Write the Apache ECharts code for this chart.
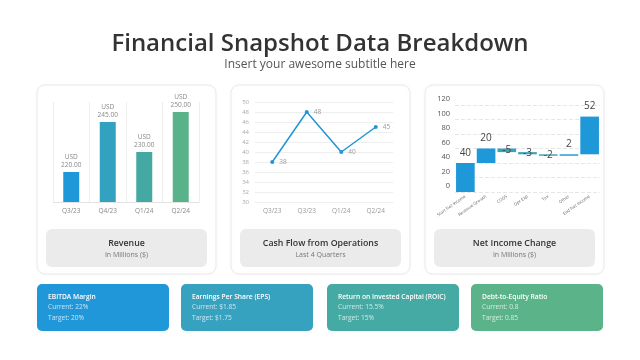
<!DOCTYPE html>
<html>
<head>
<meta charset="utf-8">
<script src="https://cdn.jsdelivr.net/npm/echarts@6/dist/echarts.min.js"></script>
<style>
  html, body { margin: 0; padding: 0; background: #fff; }
  #main { width: 640px; height: 360px; }
</style>
</head>
<body>
<div id="main"></div>
<script>
// revenue (bar)
var revCats = ["Q3/23", "Q4/23", "Q1/24", "Q2/24"];
var revValues = [220, 245, 230, 250];
var revColors = ["#1E98D8", "#33A1C0", "#44A9A2", "#5AB28A"];

// cash flow (line)
var cfCats = ["Q3/23", "Q3/23", "Q1/24", "Q2/24"];
var cfValues = [38, 48, 40, 45];

// net income waterfall
var niCats = ["Start Net Income", "Revenue Growth", "COGS", "Opr Exp", "Tax", "Other", "End Net Income"];
var niChanges = [40, 20, -5, -3, -2, 2, 52];
var niBase = [0, 40, 55, 52, 50, 50, 52];

// kpi boxes
var kpiTitles = ["EBITDA Margin", "Earnings Per Share (EPS)", "Return on Invested Capital (ROIC)", "Debt-to-Equity Ratio"];
var kpiCurrent = ["22%", "$1.85", "15.5%", "0.8"];
var kpiTarget = ["20%", "$1.75", "15%", "0.85"];
var kpiColors = ["#2097D8", "#37A2BF", "#45AAA3", "#5BB38A"];

var FONT = "Open Sans";
var chart = echarts.init(document.getElementById("main"));

var cards = [
  { x: 37, title: "Revenue", sub: "In Millions ($)" },
  { x: 231, title: "Cash Flow from Operations", sub: "Last 4 Quarters" },
  { x: 425, title: "Net Income Change", sub: "In Millions ($)" }
];

var graphics = [];
cards.forEach(function (c) {
  graphics.push({
    type: "rect", z: -10,
    shape: { x: c.x, y: 85, width: 179, height: 189, r: 8 },
    style: { fill: "#fff", stroke: "#e9e9e9", lineWidth: 1, shadowBlur: 4, shadowColor: "rgba(0,0,0,0.04)" }
  });
  graphics.push({
    type: "rect", z: -9,
    shape: { x: c.x + 9, y: 229, width: 161, height: 38, r: 6 },
    style: { fill: "#ebebeb" }
  });
  graphics.push({
    type: "text", z: 5,
    x: c.x + 89.5, y: 243,
    style: { text: c.title, fill: "#333", font: "600 8.8px '" + FONT + "'", align: "center", verticalAlign: "middle" }
  });
  graphics.push({
    type: "text", z: 5,
    x: c.x + 89.5, y: 255,
    style: { text: c.sub, fill: "#777", font: "7px '" + FONT + "'", align: "center", verticalAlign: "middle" }
  });
});

var kpiX = [37, 181, 327, 471];
kpiTitles.forEach(function (t, i) {
  graphics.push({
    type: "rect", z: -10,
    shape: { x: kpiX[i], y: 284, width: 132, height: 47, r: 5 },
    style: { fill: kpiColors[i] }
  });
  graphics.push({
    type: "text", z: 5, x: kpiX[i] + 11, y: 297,
    style: { text: t, fill: "#fff", font: "600 6.7px '" + FONT + "'", verticalAlign: "middle" }
  });
  graphics.push({
    type: "text", z: 5, x: kpiX[i] + 11, y: 307.5,
    style: { text: "Current: " + kpiCurrent[i], fill: "rgba(255,255,255,0.75)", font: "6.6px '" + FONT + "'", verticalAlign: "middle" }
  });
  graphics.push({
    type: "text", z: 5, x: kpiX[i] + 11, y: 318,
    style: { text: "Target: " + kpiTarget[i], fill: "rgba(255,255,255,0.75)", font: "6.6px '" + FONT + "'", verticalAlign: "middle" }
  });
});

var option = {
  animation: false,
  textStyle: { fontFamily: FONT },
  title: {
    text: "Financial Snapshot Data Breakdown",
    subtext: "Insert your awesome subtitle here",
    left: "center",
    top: 27,
    itemGap: 3,
    textStyle: { fontSize: 24, fontWeight: 600, color: "#333", fontFamily: FONT },
    subtextStyle: { fontSize: 12, color: "#555", fontFamily: FONT }
  },
  graphic: graphics,
  grid: [
    { left: 53, top: 102, width: 146, height: 100 },
    { left: 255, top: 102, width: 138, height: 100 },
    { left: 455, top: 105, width: 145, height: 87 }
  ],
  xAxis: [
    {
      gridIndex: 0, type: "category", data: revCats,
      axisLine: { lineStyle: { color: "#e3e3e3" } },
      axisTick: { show: false },
      splitLine: { show: true, lineStyle: { color: "#eeeeee" } },
      axisLabel: { fontSize: 6.5, color: "#888", margin: 6 }
    },
    {
      gridIndex: 1, type: "category", data: cfCats,
      axisLine: { lineStyle: { color: "#eeeeee" } },
      axisTick: { show: false },
      axisLabel: { fontSize: 6.5, color: "#999", margin: 6 }
    },
    {
      gridIndex: 2, type: "category", data: niCats,
      axisLine: { show: false },
      axisTick: { show: false },
      axisLabel: { fontSize: 4.3, color: "#666", rotate: 35, interval: 0, margin: 4 }
    }
  ],
  yAxis: [
    { gridIndex: 0, type: "value", min: 205, max: 255, show: false },
    {
      gridIndex: 1, type: "value", min: 30, max: 50, interval: 2,
      axisLine: { show: false }, axisTick: { show: false },
      splitLine: { lineStyle: { color: "#eeeeee" } },
      axisLabel: { fontSize: 6, color: "#aaa", margin: 6 }
    },
    {
      gridIndex: 2, type: "value", min: 0, max: 120, interval: 20,
      axisLine: { show: false }, axisTick: { show: false },
      splitLine: { lineStyle: { color: "#e6e6e6", type: "dashed" } },
      axisLabel: { fontSize: 7.5, color: "#555", margin: 5, verticalAlign: "bottom", padding: [0, 0, 2, 0] }
    }
  ],
  series: [
    {
      type: "bar", xAxisIndex: 0, yAxisIndex: 0,
      barWidth: 16,
      data: revValues.map(function (v, i) {
        return { value: v, itemStyle: { color: revColors[i] } };
      }),
      label: {
        show: true, position: "top", distance: 3,
        fontSize: 6.5, color: "#888", lineHeight: 8,
        formatter: function (p) { return "USD\n" + p.value.toFixed(2); }
      }
    },
    {
      type: "line", xAxisIndex: 1, yAxisIndex: 1,
      data: cfValues,
      symbol: "circle", symbolSize: 4,
      lineStyle: { color: "#2196D6", width: 1.5 },
      itemStyle: { color: "#2196D6" },
      label: { show: true, position: "right", distance: 5, fontSize: 6.5, color: "#999" }
    },
    {
      type: "bar", xAxisIndex: 2, yAxisIndex: 2, stack: "ni",
      barCategoryGap: "10%",
      itemStyle: { color: "transparent" },
      emphasis: { disabled: true },
      data: niBase
    },
    {
      type: "bar", xAxisIndex: 2, yAxisIndex: 2, stack: "ni",
      barCategoryGap: "10%",
      data: niChanges.map(function (v, i) {
        var neg = v < 0;
        return {
          value: Math.abs(v),
          itemStyle: { color: neg ? "#36A3B9" : "#1E98D8" },
          label: { position: neg ? "inside" : "top", formatter: String(v) }
        };
      }),
      label: { show: true, fontSize: 10, color: "#444", distance: 5 }
    }
  ]
};

chart.setOption(option);
</script>
</body>
</html>
